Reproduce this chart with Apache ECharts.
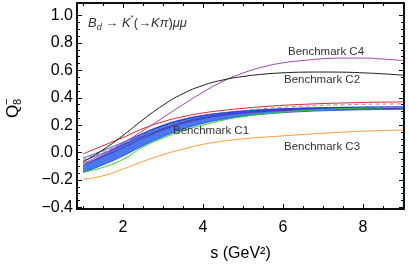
<!DOCTYPE html>
<html>
<head>
<meta charset="utf-8">
<script src="https://cdn.jsdelivr.net/npm/echarts@6/dist/echarts.min.js"></script>
<style>html,body{margin:0;padding:0;background:#fff}#c{width:409px;height:272px}</style>
</head>
<body>
<div id="c"></div>
<script>
// s values (GeV^2)
const sVals = [1, 1.5, 2, 2.5, 3, 3.5, 4, 4.5, 5, 5.5, 6, 6.5, 7, 7.5, 8, 8.5, 9];
// SM band (lower / upper edge)
const bandLow  = [-0.145, -0.09, -0.025, 0.05, 0.115, 0.17, 0.212, 0.243, 0.265, 0.28, 0.291, 0.299, 0.305, 0.309, 0.312, 0.314, 0.316];
const bandHigh = [-0.095, -0.02, 0.06, 0.14, 0.2, 0.243, 0.272, 0.291, 0.304, 0.313, 0.32, 0.325, 0.328, 0.331, 0.333, 0.334, 0.335];
// Benchmarks
const c1 = [-0.145, -0.108, -0.05, 0.04, 0.105, 0.16, 0.2, 0.236, 0.262, 0.281, 0.296, 0.307, 0.315, 0.321, 0.325, 0.328, 0.33];   // green
const c2 = [-0.07, 0.02, 0.125, 0.24, 0.345, 0.43, 0.49, 0.53, 0.555, 0.572, 0.582, 0.587, 0.588, 0.587, 0.582, 0.575, 0.565];      // black
const c3 = [-0.195, -0.17, -0.12, -0.065, -0.015, 0.025, 0.06, 0.083, 0.1, 0.112, 0.122, 0.132, 0.141, 0.149, 0.156, 0.161, 0.165];   // orange
const c4 = [-0.08, -0.01, 0.07, 0.16, 0.255, 0.35, 0.44, 0.52, 0.58, 0.625, 0.655, 0.672, 0.685, 0.69, 0.69, 0.683, 0.672];        // purple
const redLine   = [-0.01, 0.05, 0.11, 0.175, 0.225, 0.262, 0.289, 0.308, 0.323, 0.335, 0.345, 0.352, 0.358, 0.362, 0.366, 0.368, 0.37];
const blueA     = [-0.04, 0.015, 0.075, 0.14, 0.195, 0.238, 0.268, 0.288, 0.302, 0.312, 0.319, 0.324, 0.327, 0.329, 0.33, 0.331, 0.331];
const blueB     = [-0.06, -0.005, 0.055, 0.12, 0.175, 0.222, 0.255, 0.278, 0.293, 0.304, 0.312, 0.318, 0.321, 0.324, 0.325, 0.326, 0.326];
const purpleB   = [-0.085, -0.03, 0.035, 0.105, 0.165, 0.213, 0.248, 0.272, 0.288, 0.299, 0.307, 0.312, 0.316, 0.318, 0.32, 0.321, 0.321];
const grayDash  = [-0.05, 0.005, 0.065, 0.13, 0.185, 0.232, 0.266, 0.29, 0.307, 0.32, 0.331, 0.339, 0.345, 0.349, 0.352, 0.354, 0.355];
// ticks
const xTicks = [2, 4, 6, 8];
const yTicks = [-0.4, -0.2, 0, 0.2, 0.4, 0.6, 0.8, 1.0];
const xMinor = [1, 1.5, 2.5, 3, 3.5, 4.5, 5, 5.5, 6.5, 7, 7.5, 8.5, 9];
const yMinor = [];
for (let v = -0.4; v <= 1.05; v += 0.05) yMinor.push(Math.round(v * 100) / 100);

const pairs = arr => sVals.map((s, i) => [s, arr[i]]);

const FONT = 'Liberation Sans, Arial, sans-serif';
const XMIN = 0.85, XMAX = 9.03, YMIN = -0.412, YMAX = 1.092;

function xAx(pos, ticks, len, labels) {
  return {
    type: 'value', min: XMIN, max: XMAX, position: pos, gridIndex: 0, z: 20,
    axisLine: { show: true, onZero: false, lineStyle: { color: '#000', width: 1.5 } },
    axisTick: { show: true, inside: true, length: len, customValues: ticks, lineStyle: { color: '#000', width: 1 } },
    axisLabel: labels ? { show: true, customValues: xTicks, fontSize: 16, color: '#000', margin: 11, fontFamily: FONT } : { show: false },
    splitLine: { show: false }
  };
}
function yAx(pos, ticks, len, labels) {
  return {
    type: 'value', min: YMIN, max: YMAX, position: pos, gridIndex: 0, z: 20,
    axisLine: { show: true, onZero: false, lineStyle: { color: '#000', width: 1.5 } },
    axisTick: { show: true, inside: true, length: len, customValues: ticks, lineStyle: { color: '#000', width: 1 } },
    axisLabel: labels ? { show: true, customValues: yTicks, fontSize: 16, color: '#000', margin: 4, fontFamily: FONT,
      formatter: v => (v < 0 ? '\u2212' : '') + Math.abs(v).toFixed(1) } : { show: false },
    splitLine: { show: false }
  };
}

const xAxes = [xAx('bottom', xTicks, 5, true), xAx('bottom', xMinor, 3, false), xAx('top', xTicks, 5, false), xAx('top', xMinor, 3, false)];
xAxes[0].name = 's (GeV\u00B2)';
xAxes[0].nameLocation = 'middle';
xAxes[0].nameGap = 37;
xAxes[0].nameTextStyle = { fontSize: 16, color: '#000', fontFamily: FONT };

const yAxes = [yAx('left', yTicks, 5, true), yAx('left', yMinor, 3, false), yAx('right', yTicks, 5, false), yAx('right', yMinor, 3, false)];

function line(name, arr, color, width, extra) {
  return Object.assign({
    name, type: 'line', data: pairs(arr), smooth: true, symbol: 'none', silent: true,
    lineStyle: { color, width: width }, z: 5
  }, extra || {});
}

const series = [
  // band: blue fill from upper edge down, then white fill from lower edge down
  { name: 'bandHigh', type: 'line', data: pairs(bandHigh), smooth: true, symbol: 'none', silent: true,
    lineStyle: { color: '#2448d0', width: 0.8 }, areaStyle: { color: '#4a78ee', opacity: 1, origin: 'start' }, z: 2 },
  { name: 'bandLow', type: 'line', data: pairs(bandLow), smooth: true, symbol: 'none', silent: true,
    lineStyle: { color: '#2448d0', width: 0.8 }, areaStyle: { color: '#ffffff', opacity: 1, origin: 'start' }, z: 3 },
  line('grayDash', grayDash, '#a08a7a', 1, { lineStyle: { color: '#a0907f', width: 1, type: [4, 3] } }),
  line('purpleB', purpleB, '#5a2a90', 0.8),
  line('blueB', blueB, '#2a3ad8', 0.8),
  line('blueA', blueA, '#1a2ae0', 0.8),
  line('red', redLine, '#e8202a', 1),
  line('C1', c1, '#22dd22', 1),
  line('C3', c3, '#ff9933', 1),
  line('C4', c4, '#a040b0', 1),
  line('C2', c2, '#1a1a1a', 1)
];

const lbl = (text, x, y) => ({ type: 'text', x, y, silent: true, z: 100,
  style: { text, fontSize: 11.5, fill: '#333', fontFamily: FONT, textAlign: 'center', textVerticalAlign: 'middle' } });

const chart = echarts.init(document.getElementById('c'), null, { renderer: 'canvas' });
chart.setOption({
  animation: false,
  backgroundColor: '#fff',
  grid: { left: 77, right: 5, top: 3, bottom: 63, containLabel: false },
  xAxis: xAxes,
  yAxis: yAxes,
  series,
  graphic: [
    lbl('Benchmark C4', 326, 52),
    lbl('Benchmark C2', 322, 80),
    lbl('Benchmark C1', 211, 131),
    lbl('Benchmark C3', 322, 147),
    { type: 'text', x: 88, y: 23, silent: true, z: 100,
      style: {
        text: '{i|B}{sub|d}{n| \u2192 }{i|K}{sup|*}{n|(\u2192}{i|K\u03C0}{n|)}{i|\u03BC\u03BC}',
        fill: '#333', fontFamily: FONT, fontSize: 13, textVerticalAlign: 'middle',
        rich: {
          i: { fontSize: 13, fontStyle: 'italic', fontFamily: FONT, fill: '#333', lineHeight: 18 },
          n: { fontSize: 13, fontFamily: FONT, fill: '#333', lineHeight: 18 },
          sub: { fontSize: 9, fontStyle: 'italic', fontFamily: FONT, fill: '#333', verticalAlign: 'bottom', lineHeight: 18 },
          sup: { fontSize: 8, fontFamily: FONT, fill: '#333', verticalAlign: 'top', lineHeight: 12 }
        }
      } },
    { type: 'group', x: 13, y: 118, rotation: Math.PI / 2, silent: true, z: 100,
      children: [
        { type: 'text', x: 0, y: 0, style: { text: 'Q', fontSize: 17, fontFamily: FONT, fill: '#000', textAlign: 'left', textVerticalAlign: 'middle' } },
        { type: 'text', x: 13, y: 5, style: { text: '8', fontSize: 11, fontFamily: FONT, fill: '#000', textAlign: 'left', textVerticalAlign: 'middle' } },
        { type: 'text', x: 13, y: -6, style: { text: '\u2212', fontSize: 11, fontFamily: FONT, fill: '#000', textAlign: 'left', textVerticalAlign: 'middle' } }
      ] }
  ]
});
</script>
</body>
</html>
